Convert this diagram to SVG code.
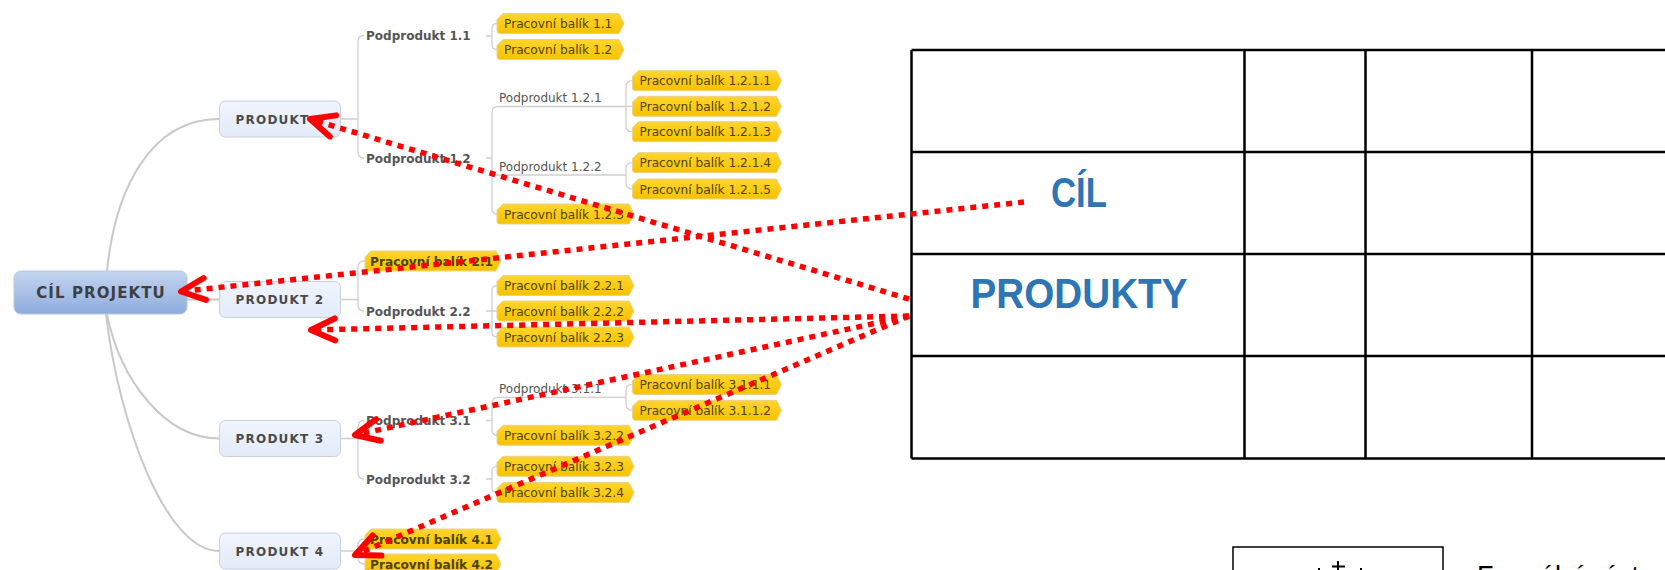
<svg xmlns="http://www.w3.org/2000/svg" xmlns:xlink="http://www.w3.org/1999/xlink" width="1665" height="570" viewBox="0 0 1665 570">
  <style>
    .curve { fill: none; stroke: #C9C9C9; stroke-width: 2; }
    .link { fill: none; stroke: #CFCFCF; stroke-width: 1.3; }
    .root-text { font-family: "DejaVu Sans", Verdana, sans-serif; font-weight: bold; font-size: 15px; letter-spacing: 1.1px; fill: #3F3F3F; text-anchor: middle; }
    .topic-text { font-family: "DejaVu Sans", Verdana, sans-serif; font-weight: bold; font-size: 12px; letter-spacing: 1.2px; fill: #4A4A4A; text-anchor: middle; }
    .sub-b { font-family: "DejaVu Sans", Verdana, sans-serif; font-weight: bold; font-size: 12px; fill: #555555; }
    .sub-n { font-family: "DejaVu Sans", Verdana, sans-serif; font-size: 12px; fill: #555555; }
    .wp-text { font-family: "DejaVu Sans", Verdana, sans-serif; font-size: 12.2px; fill: #4E4200; }
    .wp-bold { font-weight: bold; }
    .grid { fill: none; stroke: #000000; stroke-width: 2.5; }
    .big { font-family: "Liberation Sans", Arial, sans-serif; font-weight: bold; font-size: 42px; fill: #2E75B6; }
    .pointer { fill: none; stroke: #FF0000; stroke-width: 5.5; stroke-dasharray: 6 6; marker-end: url(#open-arrow); }
  </style>
  <defs>
    <linearGradient id="root-fill" x1="0" y1="0" x2="0" y2="1">
      <stop offset="0" stop-color="#C4D5F0"/>
      <stop offset="1" stop-color="#8DACDD"/>
    </linearGradient>
    <linearGradient id="topic-fill" x1="0" y1="0" x2="0" y2="1">
      <stop offset="0" stop-color="#F0F5FD"/>
      <stop offset="1" stop-color="#E2EBF9"/>
    </linearGradient>
    <linearGradient id="wp-fill" x1="0" y1="0" x2="0" y2="1">
      <stop offset="0" stop-color="#FFD52E"/>
      <stop offset="1" stop-color="#F6C200"/>
    </linearGradient>
    <!-- work-package tag shapes, one per width -->
    <path id="wp127" d="M6,0 H122 L127,10 L122,20 H3 Q0,20 0,17 V6 Z" fill="url(#wp-fill)" stroke="#E6D38C" stroke-width="1"/>
    <path id="wp136" d="M6,0 H131 L136,10 L131,20 H3 Q0,20 0,17 V6 Z" fill="url(#wp-fill)" stroke="#E6D38C" stroke-width="1"/>
    <path id="wp137" d="M6,0 H132 L137,10 L132,20 H3 Q0,20 0,17 V6 Z" fill="url(#wp-fill)" stroke="#E6D38C" stroke-width="1"/>
    <path id="wp149" d="M6,0 H144 L149,10 L144,20 H3 Q0,20 0,17 V6 Z" fill="url(#wp-fill)" stroke="#E6D38C" stroke-width="1"/>
    <marker id="open-arrow" markerUnits="userSpaceOnUse" markerWidth="40" markerHeight="40" viewBox="-30 -20 40 40" refX="0" refY="0" orient="auto" overflow="visible">
      <path d="M-24,-11 L0,0 L-24,11" fill="none" stroke="#FF0000" stroke-width="6" stroke-linecap="round" stroke-linejoin="round"/>
    </marker>
  </defs>

  <rect width="1665" height="570" fill="#FFFFFF"/>

  <!-- mind map connectors -->
  <g id="connectors">
    <path class="curve" d="M107,271 C115,190 150,119 219,119"/>
    <path class="curve" d="M187,299.5 H219"/>
    <path class="curve" d="M107,314 C120,380 165,438.5 219,438.5"/>
    <path class="curve" d="M106,314 C118,420 165,551 219,551"/>

    <path class="link" d="M340,119 H358 M364,35.5 Q358,35.5 358,41.5 V152 Q358,158 364,158"/>
    <path class="link" d="M340.5,299.5 H358 M365,261 Q358,261 358,267 V305 Q358,311 364,311"/>
    <path class="link" d="M340.5,438.5 H358 M364,420.5 Q358,420.5 358,426.5 V473 Q358,479 364,479"/>
    <path class="link" d="M340.5,551 H358 M365,539 Q358,539 358,545 V558 Q358,564 365,564"/>

    <path class="link" d="M486,36 H492 M497,23.5 Q492,23.5 492,28.5 V44.5 Q492,49.5 497,49.5"/>
    <path class="link" d="M486,158 H492 M626,106.5 H498 Q492,106.5 492,112.5 V208 Q492,214 497,214 M492,175 H626"/>
    <path class="link" d="M632.5,80.7 Q626,80.7 626,86.7 V125.7 Q626,131.7 632.5,131.7 M626,106.3 H632.5"/>
    <path class="link" d="M632.5,162.7 Q626,162.7 626,168.7 V183 Q626,189 632.5,189"/>
    <path class="link" d="M486,311 H497 M497,285.5 Q492,285.5 492,290.5 V332 Q492,337 497,337"/>
    <path class="link" d="M486,420.5 H492 M626,397.3 H498 Q492,397.3 492,403.3 V429.3 Q492,435.3 497,435.3"/>
    <path class="link" d="M632.5,384.5 Q626,384.5 626,390.5 V404.3 Q626,410.3 632.5,410.3"/>
    <path class="link" d="M486,479 H492 M497,466.3 Q492,466.3 492,471.3 V487.5 Q492,492.5 497,492.5"/>
  </g>

  <!-- central topic -->
  <g id="cil-projektu">
    <rect x="14" y="271" width="173" height="43" rx="7" fill="url(#root-fill)" stroke="#B9C8DE" stroke-width="1"/>
    <text class="root-text" x="101" y="297.5">CÍL PROJEKTU</text>
  </g>

  <!-- main topics -->
  <g id="produkt-1">
    <rect x="219.5" y="101" width="121" height="36" rx="6" fill="url(#topic-fill)" stroke="#C8D0DC" stroke-width="1"/>
    <text class="topic-text" x="280" y="123.5">PRODUKT 1</text>
  </g>
  <g id="produkt-2">
    <rect x="219.5" y="281.5" width="121" height="36" rx="6" fill="url(#topic-fill)" stroke="#C8D0DC" stroke-width="1"/>
    <text class="topic-text" x="280" y="304">PRODUKT 2</text>
  </g>
  <g id="produkt-3">
    <rect x="219.5" y="420.5" width="121" height="36" rx="6" fill="url(#topic-fill)" stroke="#C8D0DC" stroke-width="1"/>
    <text class="topic-text" x="280" y="443">PRODUKT 3</text>
  </g>
  <g id="produkt-4">
    <rect x="219.5" y="533" width="121" height="36" rx="6" fill="url(#topic-fill)" stroke="#C8D0DC" stroke-width="1"/>
    <text class="topic-text" x="280" y="555.5">PRODUKT 4</text>
  </g>

  <!-- subproducts -->
  <g id="podprodukt-1-1"><text class="sub-b" x="366" y="40">Podprodukt 1.1</text></g>
  <g id="podprodukt-1-2"><text class="sub-b" x="366" y="162.5">Podprodukt 1.2</text></g>
  <g id="podprodukt-1-2-1"><text class="sub-n" x="499" y="102">Podprodukt 1.2.1</text></g>
  <g id="podprodukt-1-2-2"><text class="sub-n" x="499" y="170.5">Podprodukt 1.2.2</text></g>
  <g id="podprodukt-2-2"><text class="sub-b" x="366" y="315.5">Podprodukt 2.2</text></g>
  <g id="podprodukt-3-1"><text class="sub-b" x="366" y="425">Podprodukt 3.1</text></g>
  <g id="podprodukt-3-1-1"><text class="sub-n" x="499" y="392.8">Podprodukt 3.1.1</text></g>
  <g id="podprodukt-3-2"><text class="sub-b" x="366" y="483.5">Podprodukt 3.2</text></g>

  <!-- work packages -->
  <g id="wp-1-1"><use xlink:href="#wp127" x="497" y="13.5"/><text class="wp-text" x="504" y="28">Pracovní balík 1.1</text></g>
  <g id="wp-1-2"><use xlink:href="#wp127" x="497" y="39.5"/><text class="wp-text" x="504" y="54">Pracovní balík 1.2</text></g>
  <g id="wp-1-2-1-1"><use xlink:href="#wp149" x="632.5" y="70.7"/><text class="wp-text" x="639.5" y="85.2">Pracovní balík 1.2.1.1</text></g>
  <g id="wp-1-2-1-2"><use xlink:href="#wp149" x="632.5" y="96.3"/><text class="wp-text" x="639.5" y="110.8">Pracovní balík 1.2.1.2</text></g>
  <g id="wp-1-2-1-3"><use xlink:href="#wp149" x="632.5" y="121.7"/><text class="wp-text" x="639.5" y="136.2">Pracovní balík 1.2.1.3</text></g>
  <g id="wp-1-2-1-4"><use xlink:href="#wp149" x="632.5" y="152.7"/><text class="wp-text" x="639.5" y="167.2">Pracovní balík 1.2.1.4</text></g>
  <g id="wp-1-2-1-5"><use xlink:href="#wp149" x="632.5" y="179"/><text class="wp-text" x="639.5" y="193.5">Pracovní balík 1.2.1.5</text></g>
  <g id="wp-1-2-3"><use xlink:href="#wp137" x="497" y="204"/><text class="wp-text" x="504" y="218.5">Pracovní balík 1.2.3</text></g>
  <g id="wp-2-1"><use xlink:href="#wp136" x="365" y="251"/><text class="wp-text wp-bold" x="370" y="265.5">Pracovní balík 2.1</text></g>
  <g id="wp-2-2-1"><use xlink:href="#wp137" x="497" y="275.5"/><text class="wp-text" x="504" y="290">Pracovní balík 2.2.1</text></g>
  <g id="wp-2-2-2"><use xlink:href="#wp137" x="497" y="301"/><text class="wp-text" x="504" y="315.5">Pracovní balík 2.2.2</text></g>
  <g id="wp-2-2-3"><use xlink:href="#wp137" x="497" y="327"/><text class="wp-text" x="504" y="341.5">Pracovní balík 2.2.3</text></g>
  <g id="wp-3-1-1-1"><use xlink:href="#wp149" x="632.5" y="374.5"/><text class="wp-text" x="639.5" y="389">Pracovní balík 3.1.1.1</text></g>
  <g id="wp-3-1-1-2"><use xlink:href="#wp149" x="632.5" y="400.3"/><text class="wp-text" x="639.5" y="414.8">Pracovní balík 3.1.1.2</text></g>
  <g id="wp-3-2-2"><use xlink:href="#wp137" x="497" y="425.3"/><text class="wp-text" x="504" y="439.8">Pracovní balík 3.2.2</text></g>
  <g id="wp-3-2-3"><use xlink:href="#wp137" x="497" y="456.3"/><text class="wp-text" x="504" y="470.8">Pracovní balík 3.2.3</text></g>
  <g id="wp-3-2-4"><use xlink:href="#wp137" x="497" y="482.5"/><text class="wp-text" x="504" y="497">Pracovní balík 3.2.4</text></g>
  <g id="wp-4-1"><use xlink:href="#wp136" x="365" y="529"/><text class="wp-text wp-bold" x="370" y="543.5">Pracovní balík 4.1</text></g>
  <g id="wp-4-2"><use xlink:href="#wp136" x="365" y="554"/><text class="wp-text wp-bold" x="370" y="568.5">Pracovní balík 4.2</text></g>

  <!-- table -->
  <g id="table">
    <path class="grid" d="M911.5,50 H1666 M911.5,152 H1666 M911.5,254 H1666 M911.5,356 H1666 M911.5,458.5 H1666"/>
    <path class="grid" d="M911.5,50 V458.5 M1244.5,50 V458.5 M1365.5,50 V458.5 M1532,50 V458.5"/>
    <text class="big" x="1051" y="206.7" textLength="56" lengthAdjust="spacingAndGlyphs">CÍL</text>
    <text class="big" x="970.5" y="308.3" textLength="217" lengthAdjust="spacingAndGlyphs">PRODUKTY</text>
  </g>

  <!-- legend box at the bottom edge; its symbol is cut by the page edge -->
  <g id="legend">
    <rect x="1233" y="547" width="210" height="40" fill="none" stroke="#000000" stroke-width="1.5"/>
    <path d="M1338,561 V571 M1332,566.5 H1345 M1319,568 V571 M1361,568 V571" fill="none" stroke="#000000" stroke-width="2"/>
    <text x="1477" y="585" font-family="Liberation Sans, Arial, sans-serif" font-size="27" fill="#000000">Formální výstupy</text>
  </g>

  <!-- red pointers -->
  <g id="pointers">
    <path class="pointer" d="M1024,202 L181,291.5"/>
    <path class="pointer" d="M909,299 L310,119"/>
    <path class="pointer" d="M909,316 L311,330"/>
    <path class="pointer" d="M909,316 L355,435"/>
    <path class="pointer" d="M909,316 L355,555"/>
  </g>
</svg>
